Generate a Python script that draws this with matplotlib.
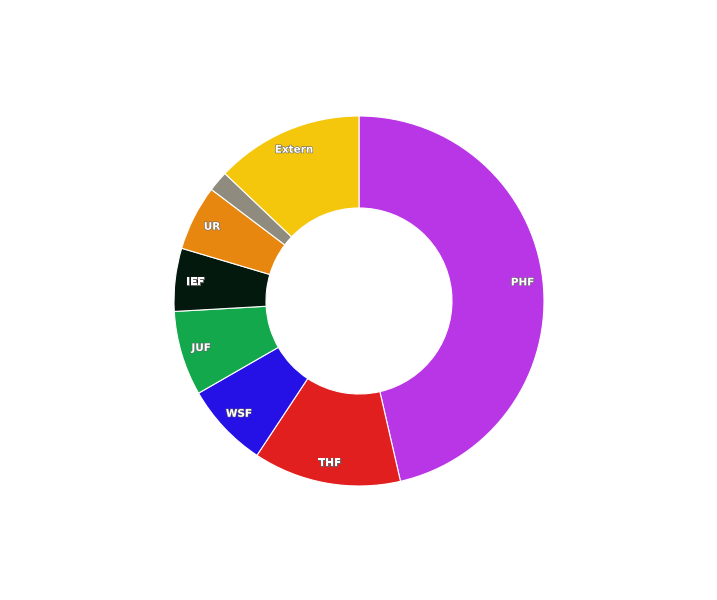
import matplotlib
matplotlib.use("Agg")
import matplotlib.pyplot as plt
import matplotlib.patheffects as pe
import numpy as np

# slice data, clockwise from 12 o'clock
labels = ["PHF", "THF", "WSF", "JUF", "IEF", "UR", "", "Extern"]
shares = [46.4, 12.9, 7.4, 7.4, 5.5, 5.7, 1.8, 12.9]
colors = ["#B936E6", "#E21F1F", "#2510E6", "#12A84B", "#04190D",
          "#E8870F", "#8F8C7F", "#F5C70C"]

fig = plt.figure(figsize=(7.17, 6.0), dpi=100)
ax = fig.add_axes([0, 0, 1, 1])

R = 185.0  # outer radius in pixels
cx, cy = 359.0, 301.0

wedges, _ = ax.pie(shares, colors=colors, startangle=90, counterclock=False,
                   radius=1.0, wedgeprops=dict(width=92 / R, edgecolor="white", linewidth=0.8))

# pie() resets limits, so set them afterwards
ax.set_xlim(-cx / R, (717 - cx) / R)
ax.set_ylim(-(600 - cy) / R, cy / R)
ax.set_aspect("equal")
ax.axis("off")

# labels at mid-angle, near outer edge
for w, lab in zip(wedges, labels):
    if not lab:
        continue
    mid = np.deg2rad((w.theta1 + w.theta2) / 2)
    r = 0.89
    ax.text(r * np.cos(mid), r * np.sin(mid), lab, ha="center", va="center",
            color="white", fontsize=7.5, fontweight="bold",
            path_effects=[pe.withStroke(linewidth=0.8, foreground="#666666")])

fig.savefig("out.png", dpi=100)
